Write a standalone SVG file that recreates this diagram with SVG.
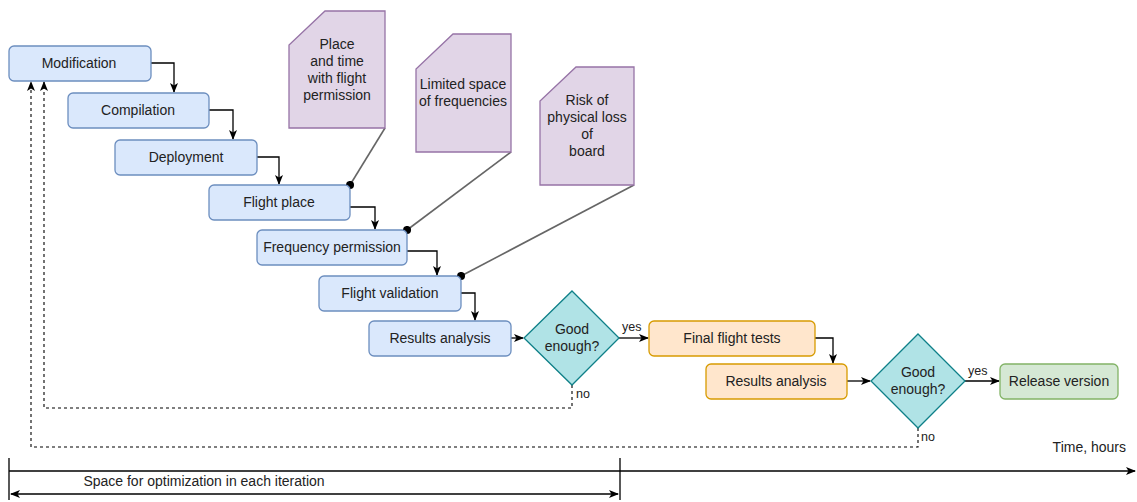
<svg xmlns="http://www.w3.org/2000/svg" width="1137" height="502" viewBox="0 0 1137 502">
<style>
text{font-family:"Liberation Sans",Arial,sans-serif;font-size:14px;fill:#222;text-anchor:middle}
.blue{fill:#dae8fc;stroke:#6c8ebf;stroke-width:1.3}
.orange{fill:#ffe6cc;stroke:#d79b00;stroke-width:1.3}
.green{fill:#d5e8d4;stroke:#82b366;stroke-width:1.3}
.note{fill:#e1d5e7;stroke:#9673a6;stroke-width:1.3}
.dia{fill:#b0e3e6;stroke:#0e8088;stroke-width:1.3}
.c{fill:none;stroke:#000;stroke-width:1.3}
.d{fill:none;stroke:#000;stroke-width:1.1;stroke-dasharray:3 3}
.g{fill:none;stroke:#666;stroke-width:1.6}
.lbl{font-size:12.5px;text-anchor:start}
</style>
<defs>
<marker id="ah" viewBox="0 0 10 8" refX="9" refY="4" markerWidth="10" markerHeight="8" markerUnits="userSpaceOnUse" orient="auto">
<path d="M0,0 L10,4 L0,8 L2.5,4 z" fill="#000"/>
</marker>
<marker id="ahs" viewBox="0 0 10 8" refX="1" refY="4" markerWidth="10" markerHeight="8" markerUnits="userSpaceOnUse" orient="auto">
<path d="M10,0 L0,4 L10,8 L7.5,4 z" fill="#000"/>
</marker>
<marker id="dot" viewBox="0 0 10 10" refX="5" refY="5" markerWidth="9" markerHeight="9" markerUnits="userSpaceOnUse">
<circle cx="5" cy="5" r="4.5" fill="#000"/>
</marker>
</defs>

<g id="connectors">
<path class="c" d="M151,63 H174 V92" marker-end="url(#ah)"/>
<path class="c" d="M209,110 H233 V139" marker-end="url(#ah)"/>
<path class="c" d="M257,157 H279 V184" marker-end="url(#ah)"/>
<path class="c" d="M350,207 H375 V229" marker-end="url(#ah)"/>
<path class="c" d="M407,251 H437 V275" marker-end="url(#ah)"/>
<path class="c" d="M461,293 H475 V320" marker-end="url(#ah)"/>
<path class="c" d="M511,338 H523" marker-end="url(#ah)"/>
<path class="c" d="M619,338 H648" marker-end="url(#ah)"/>
<path class="c" d="M815,338 H833 V363" marker-end="url(#ah)"/>
<path class="c" d="M847,381 H870" marker-end="url(#ah)"/>
<path class="c" d="M965,381 H999" marker-end="url(#ah)"/>
<path class="d" d="M572,385 V408 H44 V82" marker-end="url(#ah)"/>
<path class="d" d="M918,428 V447 H31 V82" marker-end="url(#ah)"/>
<path class="g" d="M385,128 L350,185" marker-end="url(#dot)"/>
<path class="g" d="M511,152 L407,230" marker-end="url(#dot)"/>
<path class="g" d="M634,185 L461,276" marker-end="url(#dot)"/>
<path class="c" d="M9,471 H1135" marker-end="url(#ah)"/>
<path class="c" d="M9,458 V500 M620,458 V500"/>
<path class="c" d="M11,494 H618" marker-start="url(#ahs)" marker-end="url(#ah)"/>
<text class="lbl" x="622" y="331">yes</text>
<text class="lbl" x="576" y="398">no</text>
<text class="lbl" x="968" y="375">yes</text>
<text class="lbl" x="921" y="441">no</text>
</g>

<g id="n-modification"><rect class="blue" x="9" y="46" width="142" height="35" rx="5"/><text x="79" y="68">Modification</text></g>
<g id="n-compilation"><rect class="blue" x="68" y="93" width="141" height="35" rx="5"/><text x="138" y="115">Compilation</text></g>
<g id="n-deployment"><rect class="blue" x="115" y="140" width="142" height="35" rx="5"/><text x="186" y="162">Deployment</text></g>
<g id="n-flightplace"><rect class="blue" x="209" y="185" width="141" height="35" rx="5"/><text x="279" y="207">Flight place</text></g>
<g id="n-freq"><rect class="blue" x="257" y="230" width="150" height="35" rx="5"/><text x="332" y="252">Frequency permission</text></g>
<g id="n-validation"><rect class="blue" x="319" y="276" width="142" height="35" rx="5"/><text x="390" y="298">Flight validation</text></g>
<g id="n-results1"><rect class="blue" x="369" y="321" width="142" height="35" rx="5"/><text x="440" y="343">Results analysis</text></g>
<g id="n-good1"><path class="dia" d="M572,291 L619,338 L572,385 L524,338 Z"/><text x="572" y="334">Good</text><text x="572" y="351">enough?</text></g>
<g id="n-final"><rect class="orange" x="649" y="321" width="166" height="35" rx="5"/><text x="732" y="343">Final flight tests</text></g>
<g id="n-results2"><rect class="orange" x="706" y="364" width="141" height="35" rx="5"/><text x="776" y="386">Results analysis</text></g>
<g id="n-good2"><path class="dia" d="M918,334 L965,381 L918,428 L871,381 Z"/><text x="918" y="377">Good</text><text x="918" y="394">enough?</text></g>
<g id="n-release"><rect class="green" x="1000" y="364" width="118" height="35" rx="5"/><text x="1059" y="386">Release version</text></g>

<g id="note-place"><path class="note" d="M325,11 H385 V128 H289 V45 Z"/><text x="337" y="49">Place</text><text x="337" y="66">and time</text><text x="337" y="83">with flight</text><text x="337" y="100">permission</text></g>
<g id="note-freq"><path class="note" d="M453,34 H511 V152 H416 V69 Z"/><text x="463" y="89">Limited space</text><text x="463" y="106">of frequencies</text></g>
<g id="note-risk"><path class="note" d="M576,67 H634 V185 H540 V101 Z"/><text x="587" y="105">Risk of</text><text x="587" y="122">physical loss</text><text x="587" y="139">of</text><text x="587" y="156">board</text></g>

<g id="labels">
<text x="1126" y="452" style="text-anchor:end">Time, hours</text>
<text x="204" y="486">Space for optimization in each iteration</text>
</g>
</svg>
